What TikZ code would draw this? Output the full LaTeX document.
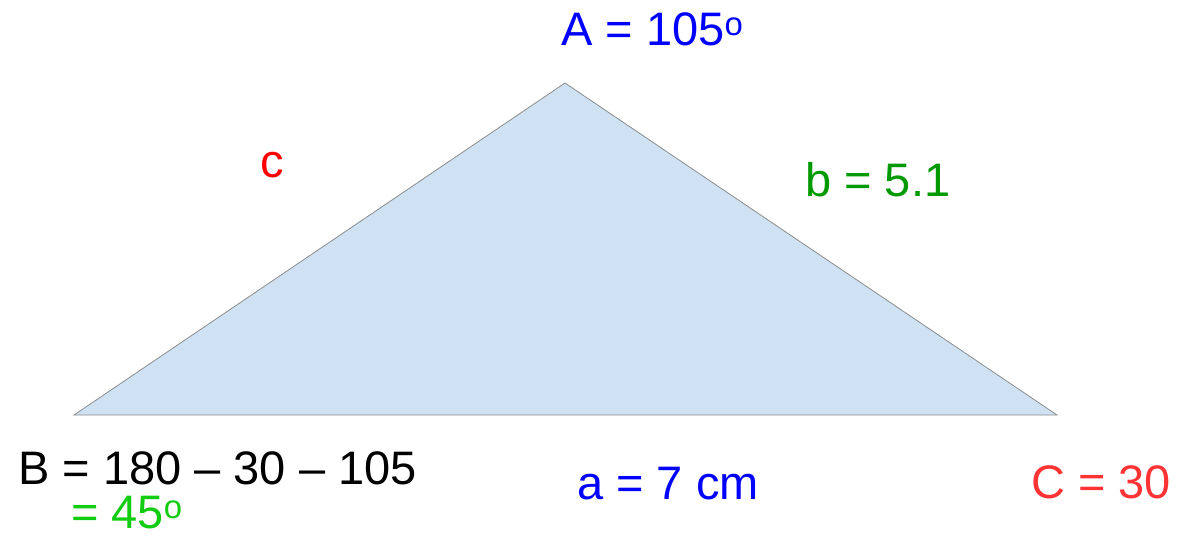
\documentclass[tikz,border=0pt]{standalone}
\usepackage{fontspec}
\setmainfont{Liberation Sans}
\definecolor{triblue}{RGB}{207,226,243}
\definecolor{edgegray}{RGB}{140,140,140}
\definecolor{lblblue}{RGB}{0,0,255}
\definecolor{lblgreen}{RGB}{0,153,0}
\definecolor{lbllime}{RGB}{17,204,17}
\definecolor{lblred}{RGB}{255,0,0}
\definecolor{lblcoral}{RGB}{255,51,51}
\begin{document}
\begin{tikzpicture}[x=1pt,y=-1pt,
  lbl/.style={anchor=base west,inner sep=0pt,font=\fontsize{47}{56}\selectfont},
  edge/.style={draw=edgegray,line width=0.8pt,fill=triblue}]
\useasboundingbox (0,0) rectangle (1180,539);
\coordinate (A) at (565,83);
\coordinate (B) at (74,415);
\coordinate (C) at (1057,415);
\path[edge] (A) -- (C) -- (B) -- cycle;
\node[lbl,text=lblblue] (la) at (561,45) {A = 105\textsuperscript{o}};
\node[lbl,text=lblred] (lc) at (260,177) {c};
\node[lbl,text=lblgreen] (lb) at (805,196) {b = 5.1};
\node[lbl,text=black] (lB) at (18,484) {B = 180 -- 30 -- 105};
\node[lbl,text=lbllime] (lB2) at (71,528) {= 45\textsuperscript{o}};
\node[lbl,text=lblblue] (lA) at (577,499) {a = 7 cm};
\node[lbl,text=lblcoral] (lC) at (1031,498) {C = 30};
\end{tikzpicture}
\end{document}
